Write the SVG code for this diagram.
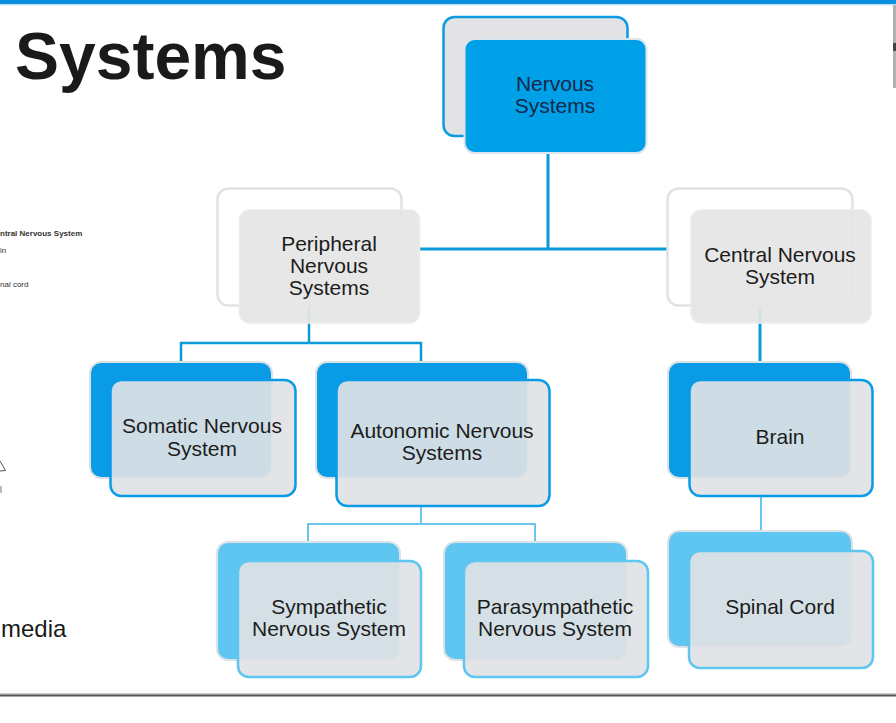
<svg xmlns="http://www.w3.org/2000/svg" width="896" height="723" viewBox="0 0 896 723">
<style>
.lbl{font-family:"Liberation Sans",Arial,sans-serif;font-size:21px;fill:#1c1c1c;text-anchor:middle}
.lblTop{fill:#14284a}
.side{font-family:"Liberation Sans",Arial,sans-serif;font-size:8px;fill:#333}
.backGrayBlue{fill:#e3e3e6;stroke:#0a9be0;stroke-width:2.5}
.frontBlue{fill:#00a0e8;stroke:#dde6ee;stroke-width:2}
.backOutline{fill:#ffffff;stroke:#e2e2e2;stroke-width:2.5}
.frontGray{fill:#e5e5e5;fill-opacity:0.93;stroke:#ebebeb;stroke-width:1.5}
.backBlue{fill:#0a9be6;stroke:#dde2e6;stroke-width:2}
.frontB{fill:#dfe2e5;fill-opacity:0.92;stroke:#0a9be6;stroke-width:2.5}
.backLight{fill:#5ec6f0;stroke:#dde2e6;stroke-width:2}
.frontL{fill:#dfe2e5;fill-opacity:0.92;stroke:#5ec6f0;stroke-width:2.5}
.c1{fill:none;stroke:#0a9ad8;stroke-width:3}
.c2{fill:none;stroke:#0a9ad8;stroke-width:2.5}
.c3{fill:none;stroke:#6cc6ea;stroke-width:2}
</style>
<rect x="0" y="0" width="896" height="723" fill="#ffffff"/>
<rect x="0" y="0" width="896" height="4" fill="#0d8fe0"/>
<rect x="0" y="4" width="896" height="1.5" fill="#bfe3f7"/>
<rect x="893" y="5" width="3" height="83" fill="#b0b0b0"/>
<rect x="893" y="43" width="3" height="8" fill="#444444"/>
<rect x="0" y="693.5" width="896" height="1.5" fill="#999999"/>
<rect x="0" y="695" width="896" height="1.5" fill="#555555"/>

<text x="15" y="79" font-family="'Liberation Sans',Arial,sans-serif" font-size="66" font-weight="bold" fill="#1a1a1a">Systems</text>
<text class="side" x="0" y="235.5" font-weight="bold">ntral Nervous System</text>
<text class="side" x="0" y="252.5">in</text>
<text class="side" x="0" y="287">nal cord</text>
<path d="M0,461 L5.5,470.5 L0,471" fill="none" stroke="#555" stroke-width="1"/>
<path d="M1,486 L1,493" fill="none" stroke="#777" stroke-width="1"/>
<text x="1" y="637" font-family="'Liberation Sans',Arial,sans-serif" font-size="24" fill="#1a1a1a">media</text>

<g id="connectors">
<path class="c1" d="M548,150 L548,249 M419,249 L691,249"/>
<path class="c2" d="M309,300 L309,343 M181,362 L181,343 L421,343 L421,362"/>
<path class="c1" d="M760,300 L760,362"/>
<path class="c3" d="M421,505 L421,524 M308,542 L308,524 L535,524 L535,542"/>
<path class="c3" d="M761,494 L761,531"/>
</g>

<g id="node-nervous">
<rect class="backGrayBlue" x="443.5" y="17" width="184" height="119" rx="11"/>
<rect class="frontBlue" x="464.5" y="39" width="182" height="114" rx="10"/>
<text class="lbl lblTop" x="555" y="91">Nervous</text>
<text class="lbl lblTop" x="555" y="113">Systems</text>
</g>

<g id="node-peripheral">
<rect class="backOutline" x="217.5" y="188.5" width="184" height="117" rx="11"/>
<rect class="frontGray" x="239.5" y="210" width="180" height="113" rx="10"/>
<text class="lbl" x="329" y="251">Peripheral</text>
<text class="lbl" x="329" y="273">Nervous</text>
<text class="lbl" x="329" y="295">Systems</text>
</g>

<g id="node-central">
<rect class="backOutline" x="667.5" y="188.5" width="185" height="117" rx="11"/>
<rect class="frontGray" x="691" y="210" width="180" height="113" rx="10"/>
<text class="lbl" x="780" y="262">Central Nervous</text>
<text class="lbl" x="780" y="284">System</text>
</g>

<g id="node-somatic">
<rect class="backBlue" x="90" y="362" width="182" height="116" rx="11"/>
<rect class="frontB" x="110.5" y="380" width="185" height="116" rx="11"/>
<text class="lbl" x="202" y="433">Somatic Nervous</text>
<text class="lbl" x="202" y="456">System</text>
</g>

<g id="node-autonomic">
<rect class="backBlue" x="316" y="362" width="212" height="116" rx="11"/>
<rect class="frontB" x="336.5" y="380" width="213" height="126" rx="11"/>
<text class="lbl" x="442" y="438">Autonomic Nervous</text>
<text class="lbl" x="442" y="460">Systems</text>
</g>

<g id="node-brain">
<rect class="backBlue" x="668" y="362" width="183" height="116" rx="11"/>
<rect class="frontB" x="689.5" y="380" width="183" height="116" rx="11"/>
<text class="lbl" x="780" y="444">Brain</text>
</g>

<g id="node-sympathetic">
<rect class="backLight" x="217" y="542" width="183" height="118" rx="11"/>
<rect class="frontL" x="238" y="561" width="183" height="116" rx="11"/>
<text class="lbl" x="329" y="614">Sympathetic</text>
<text class="lbl" x="329" y="636">Nervous System</text>
</g>

<g id="node-parasympathetic">
<rect class="backLight" x="444" y="542" width="183" height="118" rx="11"/>
<rect class="frontL" x="464" y="561" width="184" height="116" rx="11"/>
<text class="lbl" x="555" y="614">Parasympathetic</text>
<text class="lbl" x="555" y="636">Nervous System</text>
</g>

<g id="node-spinal">
<rect class="backLight" x="668" y="531" width="184" height="116" rx="11"/>
<rect class="frontL" x="689" y="551" width="184" height="117" rx="11"/>
<text class="lbl" x="780" y="614">Spinal Cord</text>
</g>
</svg>
